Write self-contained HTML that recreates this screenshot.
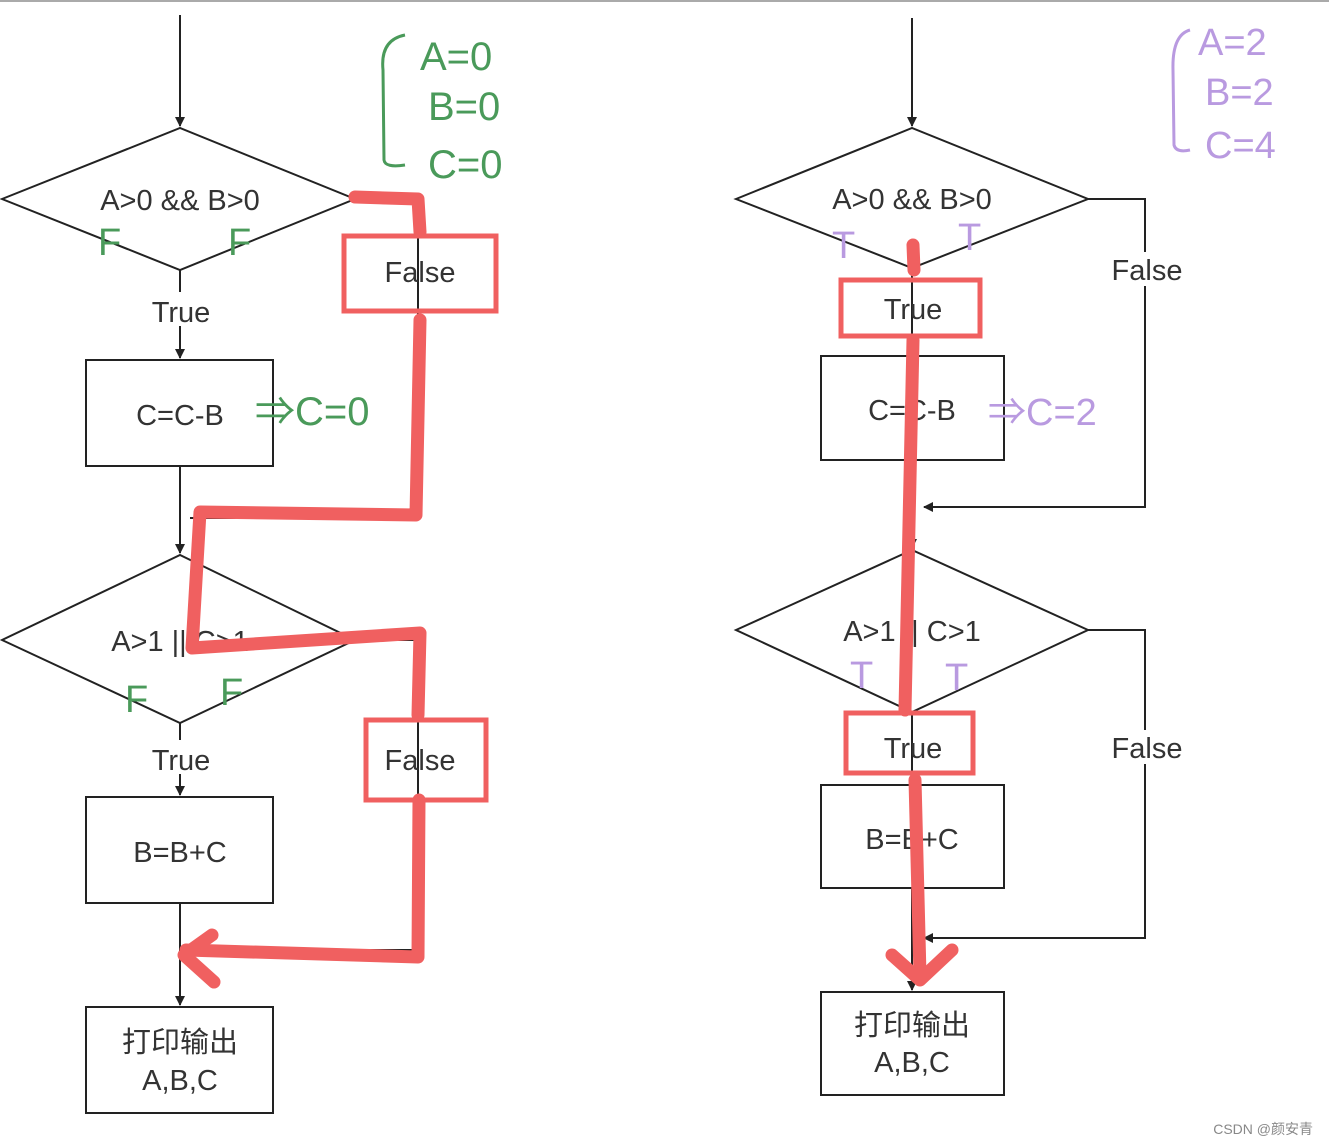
<!DOCTYPE html>
<html><head><meta charset="utf-8"><style>
html,body{margin:0;padding:0;background:#fff;}
svg{display:block;}
text{font-family:"Liberation Sans","Noto Sans CJK SC",sans-serif;}
</style></head><body>
<svg width="1329" height="1146" viewBox="0 0 1329 1146" xmlns="http://www.w3.org/2000/svg">
<defs>
<marker id="ar" markerWidth="10" markerHeight="10" refX="9" refY="5" orient="auto" markerUnits="userSpaceOnUse">
<path d="M0,0 L10,5 L0,10 Z" fill="#222"/></marker>
</defs>
<line x1="0" y1="1" x2="1329" y2="1" stroke="#aaa" stroke-width="2"/>
<g stroke="#222" stroke-width="2" fill="none">
<!-- Left chart -->
<line x1="180" y1="15" x2="180" y2="126" marker-end="url(#ar)"/>
<polygon points="2,199 180,128 355,199 180,270" fill="#fff"/>
<line x1="180" y1="270" x2="180" y2="358" marker-end="url(#ar)"/>
<rect x="86" y="360" width="187" height="106" fill="#fff"/>
<line x1="180" y1="466" x2="180" y2="553" marker-end="url(#ar)"/>
<polygon points="2,640 180,555 355,640 180,723" fill="#fff"/>
<line x1="180" y1="723" x2="180" y2="795" marker-end="url(#ar)"/>
<rect x="86" y="797" width="187" height="106" fill="#fff"/>
<line x1="180" y1="903" x2="180" y2="1005" marker-end="url(#ar)"/>
<rect x="86" y="1007" width="187" height="106" fill="#fff"/>
<polyline points="355,199 418,199 418,518 190,518"/>
<polyline points="355,640 418,640 418,950 182,950"/>
<!-- Right chart -->
<line x1="912" y1="18" x2="912" y2="126" marker-end="url(#ar)"/>
<polygon points="736,199 912,128 1088,199 912,268" fill="#fff"/>
<line x1="912" y1="268" x2="912" y2="354"/>
<rect x="821" y="356" width="183" height="104" fill="#fff"/>
<line x1="912" y1="460" x2="912" y2="548" marker-end="url(#ar)"/>
<polygon points="736,630 912,550 1088,630 912,712" fill="#fff"/>
<line x1="912" y1="712" x2="912" y2="783"/>
<rect x="821" y="785" width="183" height="103" fill="#fff"/>
<line x1="912" y1="888" x2="912" y2="990" marker-end="url(#ar)"/>
<rect x="821" y="992" width="183" height="103" fill="#fff"/>
<polyline points="1088,199 1145,199 1145,507 924,507" marker-end="url(#ar)"/>
<polyline points="1088,630 1145,630 1145,938 924,938" marker-end="url(#ar)"/>
</g>
<!-- label backgrounds -->
<rect x="1110" y="252" width="75" height="34" fill="#fff"/>
<rect x="1110" y="730" width="75" height="34" fill="#fff"/>
<rect x="146" y="292" width="70" height="34" fill="#fff"/>
<rect x="146" y="740" width="70" height="34" fill="#fff"/>
<g font-size="29" fill="#333" text-anchor="middle">
<text x="180" y="210">A&gt;0 &amp;&amp; B&gt;0</text>
<text x="181" y="322">True</text>
<text x="180" y="425">C=C-B</text>
<text x="180" y="651">A&gt;1 || C&gt;1</text>
<text x="181" y="770">True</text>
<text x="180" y="862">B=B+C</text>
<text x="180" y="1052">打印输出</text>
<text x="180" y="1090">A,B,C</text>
<text x="420" y="282">False</text>
<text x="420" y="770">False</text>
<text x="912" y="209">A&gt;0 &amp;&amp; B&gt;0</text>
<text x="913" y="319">True</text>
<text x="912" y="420">C=C-B</text>
<text x="912" y="641">A&gt;1 || C&gt;1</text>
<text x="913" y="758">True</text>
<text x="912" y="849">B=B+C</text>
<text x="912" y="1035">打印输出</text>
<text x="912" y="1072">A,B,C</text>
<text x="1147" y="280">False</text>
<text x="1147" y="758">False</text>
</g>
<!-- red highlights -->
<g stroke="#f06060" stroke-width="5" fill="none">
<rect x="344" y="236" width="152" height="75"/>
<rect x="366" y="720" width="120" height="80"/>
<rect x="841" y="280" width="139" height="56"/>
<rect x="846" y="713" width="127" height="60"/>
</g>
<g stroke="#f06060" stroke-width="13" fill="none" stroke-linecap="round" stroke-linejoin="round">
<polyline points="355,197 418,199 420,232"/>
<polyline points="420,320 416,515 200,512 192,648 420,633 418,715"/>
<polyline points="419,800 418,957 186,950"/>
<polyline points="212,935 184,955 214,982"/>
<polyline points="913,245 914,270"/>
<polyline points="913,340 905,710"/>
<polyline points="915,780 920,975"/>
<polyline points="892,955 920,980 952,950"/>
</g>
<!-- handwriting -->
<g fill="#4a9a5a" font-size="40" font-family="Liberation Sans,sans-serif">
<text x="420" y="70">A=0</text>
<text x="428" y="120">B=0</text>
<text x="428" y="178">C=0</text>
<text x="255" y="425">⇒C=0</text>
<text x="98" y="255" font-size="38">F</text>
<text x="228" y="255" font-size="38">F</text>
<text x="125" y="712" font-size="38">F</text>
<text x="220" y="705" font-size="38">F</text>
</g>
<path d="M405,35 Q380,40 383,70 L384,160 Q385,168 405,165" stroke="#4a9a5a" stroke-width="3" fill="none"/>
<g fill="#b99ae0" font-size="38">
<text x="1198" y="55">A=2</text>
<text x="1205" y="105">B=2</text>
<text x="1205" y="158">C=4</text>
<text x="988" y="425">⇒C=2</text>
<text x="832" y="258" font-size="38">T</text>
<text x="958" y="250" font-size="38">T</text>
<text x="850" y="688" font-size="38">T</text>
<text x="945" y="690" font-size="38">T</text>
</g>
<path d="M1190,30 Q1172,35 1173,70 L1174,145 Q1176,153 1190,150" stroke="#b99ae0" stroke-width="3" fill="none"/>
<text x="1313" y="1134" font-size="14" fill="#888" text-anchor="end">CSDN @颜安青</text>
</svg>
</body></html>
